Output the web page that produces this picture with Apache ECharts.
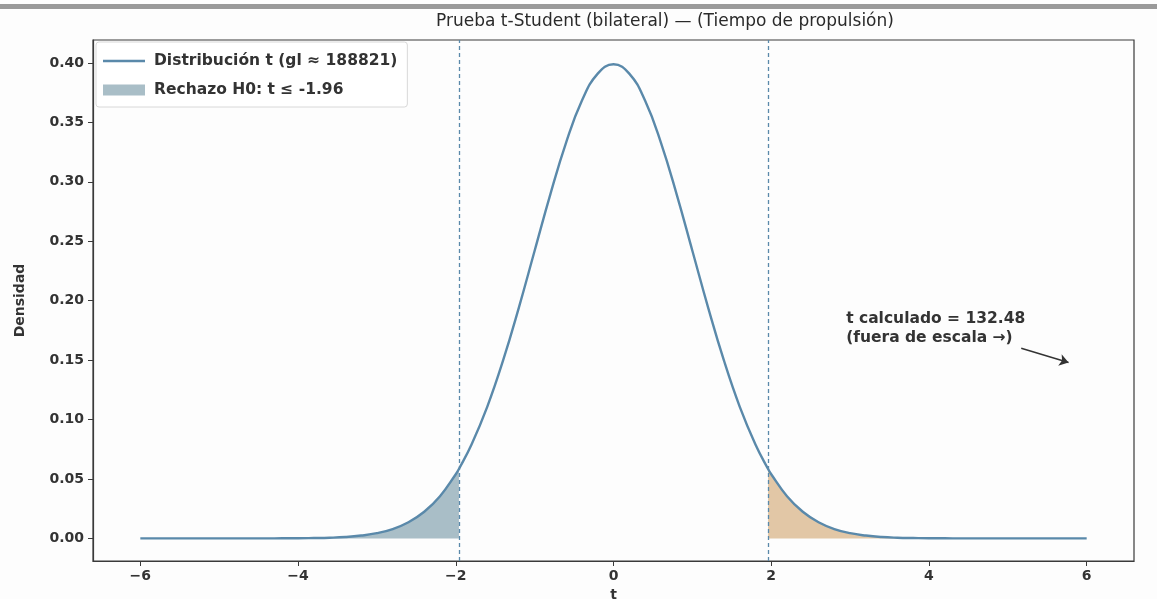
<!DOCTYPE html>
<html>
<head>
<meta charset="utf-8">
<script src="https://cdn.jsdelivr.net/npm/echarts@6/dist/echarts.min.js"></script>
<style>
  html, body { margin: 0; padding: 0; background: #fdfdfd; overflow: hidden; }
  #chart { width: 1157px; height: 599px; }
</style>
</head>
<body>
<div id="chart"></div>
<script>
// t values along the curve and the density at each one
const tValues = [
  -6, -5.8, -5.6, -5.4, -5.2, -5, -4.8, -4.6, -4.4, -4.2, -4, -3.8, -3.6, -3.4, -3.2, -3,
  -2.8, -2.6, -2.4, -2.2, -2, -1.96, -1.8, -1.6, -1.4, -1.2, -1, -0.8, -0.6, -0.4, -0.2, 0,
  0.2, 0.4, 0.6, 0.8, 1, 1.2, 1.4, 1.6, 1.8, 1.96, 2, 2.2, 2.4, 2.6, 2.8, 3,
  3.2, 3.4, 3.6, 3.8, 4, 4.2, 4.4, 4.6, 4.8, 5, 5.2, 5.4, 5.6, 5.8, 6
];
const density = [
  0.0000, 0.0000, 0.0000, 0.0000, 0.0000, 0.0000, 0.0000, 0.0000, 0.0000, 0.0001, 0.0001, 0.0003, 0.0006, 0.0012, 0.0024, 0.0044,
  0.0079, 0.0136, 0.0224, 0.0355, 0.0540, 0.0584, 0.0790, 0.1109, 0.1497, 0.1942, 0.2420, 0.2897, 0.3332, 0.3683, 0.3910, 0.3989,
  0.3910, 0.3683, 0.3332, 0.2897, 0.2420, 0.1942, 0.1497, 0.1109, 0.0790, 0.0584, 0.0540, 0.0355, 0.0224, 0.0136, 0.0079, 0.0044,
  0.0024, 0.0012, 0.0006, 0.0003, 0.0001, 0.0001, 0.0000, 0.0000, 0.0000, 0.0000, 0.0000, 0.0000, 0.0000, 0.0000, 0.0000
];
const criticalT = 1.96;
const tCalculated = 132.48;
const degreesOfFreedom = 188821;
const xTicks = [-6, -4, -2, 0, 2, 4, 6];
const yTicks = [0, 0.05, 0.10, 0.15, 0.20, 0.25, 0.30, 0.35, 0.40];
// annotation: text anchor and arrow ends, in data units
const noteText = [2.95, 0.177];
const arrowTail = [5.17, 0.160];
const arrowHead = [5.77, 0.148];

const curveName = 'Distribución t (gl ≈ ' + degreesOfFreedom + ')';
const leftName = 'Rechazo H0: t ≤ -' + criticalT.toFixed(2);

const pairs = tValues.map((t, i) => [t, density[i]]);
const leftTail = pairs.filter(p => p[0] <= -criticalT);
const rightTail = pairs.filter(p => p[0] >= criticalT);

const FONT = 'DejaVu Sans';
const TXT = '#333';
const LINE = '#5a89aa';
const SMOOTH = 0.45;
const fmtMinus = v => (v < 0 ? '\u2212' + Math.abs(v) : String(v));

const chart = echarts.init(document.getElementById('chart'), null, { renderer: 'canvas' });

chart.setOption({
  backgroundColor: '#fdfdfd',
  animation: false,
  title: {
    text: 'Prueba t-Student (bilateral) — (Tiempo de propulsión)',
    left: 660, top: 8, textAlign: 'center',
    textStyle: { fontFamily: FONT, fontSize: 17, fontWeight: 'normal', color: '#2a2a2a' }
  },
  graphic: [
    { type: 'rect', left: 0, top: 4, shape: { width: 1157, height: 5 }, style: { fill: '#9a9a9a' }, silent: true }
  ],
  legend: {
    orient: 'vertical', left: 96, top: 42,
    padding: [11, 10, 9, 7], itemGap: 13,
    itemWidth: 42, itemHeight: 11,
    backgroundColor: 'rgba(255,255,255,0.85)',
    borderColor: '#d8d8d8', borderWidth: 1, borderRadius: 3,
    textStyle: { fontFamily: FONT, fontSize: 15.5, fontWeight: 'bold', color: TXT, padding: [0, 0, 0, 4] },
    data: [
      { name: curveName, icon: 'path://M0,0H42V2.4H0Z', itemStyle: { color: LINE } },
      { name: leftName, icon: 'rect' }
    ]
  },
  grid: {
    left: 93, width: 1041, top: 40, height: 521,
    outerBoundsMode: 'none', containLabel: false,
    show: true, borderColor: '#3a3a3a', borderWidth: 1.2, backgroundColor: 'transparent'
  },
  xAxis: {
    type: 'value', min: -6.6, max: 6.6,
    name: 't', nameLocation: 'middle', nameGap: 26,
    nameTextStyle: { fontFamily: FONT, fontSize: 14, fontWeight: 'bold', color: TXT },
    axisLine: { show: true, onZero: false, lineStyle: { color: '#3a3a3a', width: 1.2 } },
    axisTick: { show: true, length: 5, customValues: xTicks, lineStyle: { color: '#3a3a3a' } },
    axisLabel: { customValues: xTicks, formatter: fmtMinus, margin: 8, fontFamily: FONT, fontSize: 14, fontWeight: 'bold', color: TXT },
    splitLine: { show: false }
  },
  yAxis: {
    type: 'value', min: -0.019, max: 0.4193,
    name: 'Densidad', nameLocation: 'middle', nameGap: 66, nameRotate: 90,
    nameTextStyle: { fontFamily: FONT, fontSize: 14, fontWeight: 'bold', color: TXT },
    axisLine: { show: true, onZero: false, lineStyle: { color: '#3a3a3a', width: 1.2 } },
    axisTick: { show: true, length: 5, customValues: yTicks, lineStyle: { color: '#3a3a3a' } },
    axisLabel: { customValues: yTicks, formatter: v => v.toFixed(2), margin: 9, fontFamily: FONT, fontSize: 14, fontWeight: 'bold', color: TXT },
    splitLine: { show: false }
  },
  series: [
    {
      name: leftName, type: 'line', data: leftTail, smooth: SMOOTH,
      symbol: 'none', lineStyle: { width: 0 },
      itemStyle: { color: '#a9bec7' },
      areaStyle: { color: '#a9bec7', opacity: 1, origin: 0 },
      z: 1
    },
    {
      name: 'rightTail', type: 'line', data: rightTail, smooth: SMOOTH,
      symbol: 'none', lineStyle: { width: 0 },
      itemStyle: { color: '#e2c7a6' },
      areaStyle: { color: '#e2c7a6', opacity: 1, origin: 0 },
      z: 1
    },
    {
      name: curveName, type: 'line', data: pairs, smooth: SMOOTH,
      symbol: 'none',
      itemStyle: { color: LINE },
      lineStyle: { color: LINE, width: 2.4 },
      z: 3,
      markLine: {
        silent: true, symbol: 'none',
        label: { show: false },
        lineStyle: { color: LINE, type: [4, 3], width: 1.3 },
        data: [{ xAxis: -criticalT }, { xAxis: criticalT }]
      }
    },
    {
      name: 'nota', type: 'line', data: [arrowTail, arrowHead],
      symbol: 'none', lineStyle: { width: 0 }, silent: true, z: 4,
      markLine: {
        silent: true, symbol: ['none', 'arrow'], symbolSize: 9,
        label: { show: false },
        lineStyle: { color: '#333', type: 'solid', width: 1.4 },
        data: [[{ coord: arrowTail }, { coord: arrowHead }]]
      },
      markPoint: {
        symbol: 'circle', symbolSize: 0,
        data: [{ coord: noteText }],
        label: {
          show: true, position: 'right', distance: 0,
          formatter: 't calculado = ' + tCalculated.toFixed(2) + '\n(fuera de escala →)',
          fontFamily: FONT, fontSize: 15.5, fontWeight: 'bold', color: TXT, lineHeight: 19, align: 'left'
        }
      }
    }
  ]
});
</script>
</body>
</html>
